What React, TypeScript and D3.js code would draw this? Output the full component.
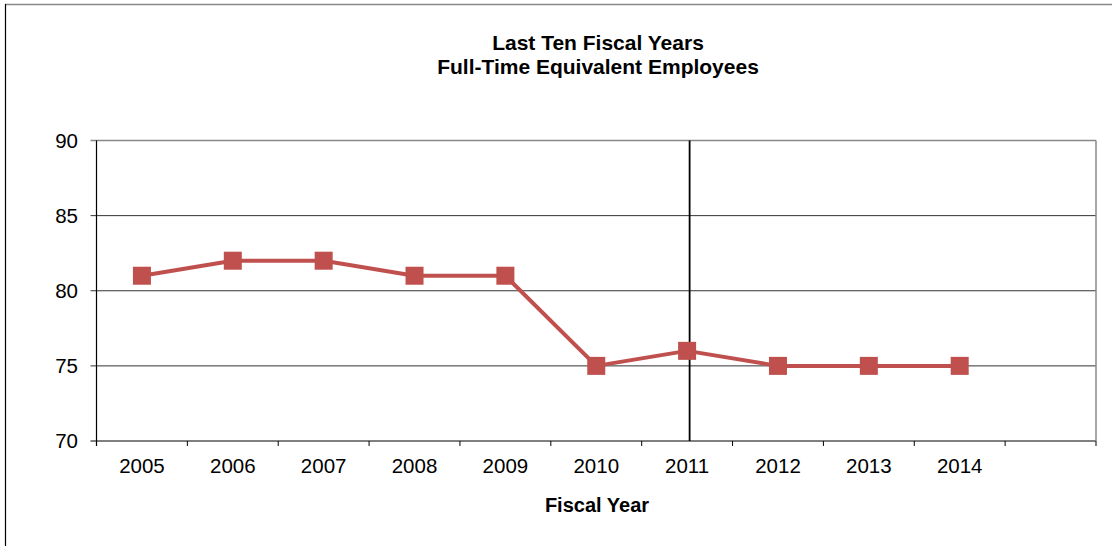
import React from "react";
import * as d3 from "d3";

const years = ["2005", "2006", "2007", "2008", "2009", "2010", "2011", "2012", "2013", "2014", ""];
const employees = [81, 82, 82, 81, 81, 75, 76, 75, 75, 75];
const yTicks = [70, 75, 80, 85, 90];
const titleLines = ["Last Ten Fiscal Years", "Full-Time Equivalent Employees"];
const xAxisTitle = "Fiscal Year";
const markerYear = "2011";

const W = 1112;
const H = 546;
const M = { left: 96.5, right: 1096, top: 140.5, bottom: 441 };
const FONT = "Arial, 'Liberation Sans', sans-serif";
const RED = "#C0504D";

export default function App() {
  const x = d3.scaleBand().domain(years.map((y, i) => y || `_${i}`)).range([M.left, M.right]);
  const keys = x.domain();
  const y = d3.scaleLinear().domain([70, 90]).range([M.bottom, M.top]);
  const cx = (i: number) => (x(keys[i]) as number) + x.bandwidth() / 2;
  const line = d3
    .line<number>()
    .x((_, i) => cx(i))
    .y((d) => y(d));
  const vIdx = years.indexOf(markerYear);
  const vx = cx(vIdx) + 2.5;
  const ms = 18;

  return (
    <svg width={W} height={H} style={{ position: "absolute", left: 0, top: 0, background: "#fff" }}>
      <rect x={0} y={0} width={W} height={H} fill="#fff" />
      {/* outer chart border */}
      <line x1={5} y1={4.5} x2={W} y2={4.5} stroke="#888" strokeWidth={1.5} />
      <line x1={5.5} y1={4} x2={5.5} y2={H} stroke="#000" strokeWidth={1.2} />
      {/* title */}
      {titleLines.map((t, i) => (
        <text key={i} x={598} y={50 + i * 24} textAnchor="middle" fontFamily={FONT} fontWeight="bold" fontSize={21} fill="#000">
          {t}
        </text>
      ))}
      {/* gridlines */}
      {yTicks.map((t) => (
        <line
          key={t}
          x1={M.left - 6}
          x2={M.right}
          y1={y(t)}
          y2={y(t)}
          stroke={t === 90 ? "#888" : t === 70 ? "#000" : "#333"}
          strokeWidth={t === 90 ? 1.5 : 1}
        />
      ))}
      {/* right border */}
      <line x1={M.right} x2={M.right} y1={M.top} y2={M.bottom} stroke="#888" strokeWidth={1.5} />
      {/* y axis */}
      <line x1={M.left} x2={M.left} y1={M.top} y2={M.bottom + 5} stroke="#000" strokeWidth={1.2} />
      {yTicks.map((t) => (
        <text key={t} x={78} y={y(t) + 7} textAnchor="end" fontFamily={FONT} fontSize={20.5} fill="#000">
          {t}
        </text>
      ))}
      {/* x ticks */}
      {keys.map((k) => (
        <line key={k} x1={(x(k) as number) + x.bandwidth()} x2={(x(k) as number) + x.bandwidth()} y1={M.bottom} y2={M.bottom + 5} stroke="#000" strokeWidth={1} />
      ))}
      {years.map((yr, i) =>
        yr ? (
          <text key={yr} x={cx(i)} y={473} textAnchor="middle" fontFamily={FONT} fontSize={20.5} fill="#000">
            {yr}
          </text>
        ) : null
      )}
      <text x={597} y={512} textAnchor="middle" fontFamily={FONT} fontWeight="bold" fontSize={20} fill="#000">
        {xAxisTitle}
      </text>
      {/* vertical marker line */}
      <line x1={vx} x2={vx} y1={M.top} y2={M.bottom} stroke="#000" strokeWidth={1.8} />
      {/* series */}
      <path d={line(employees) || ""} fill="none" stroke={RED} strokeWidth={4} strokeLinejoin="round" />
      {employees.map((v, i) => (
        <rect key={i} x={cx(i) - ms / 2} y={y(v) - ms / 2} width={ms} height={ms} fill={RED} />
      ))}
    </svg>
  );
}
